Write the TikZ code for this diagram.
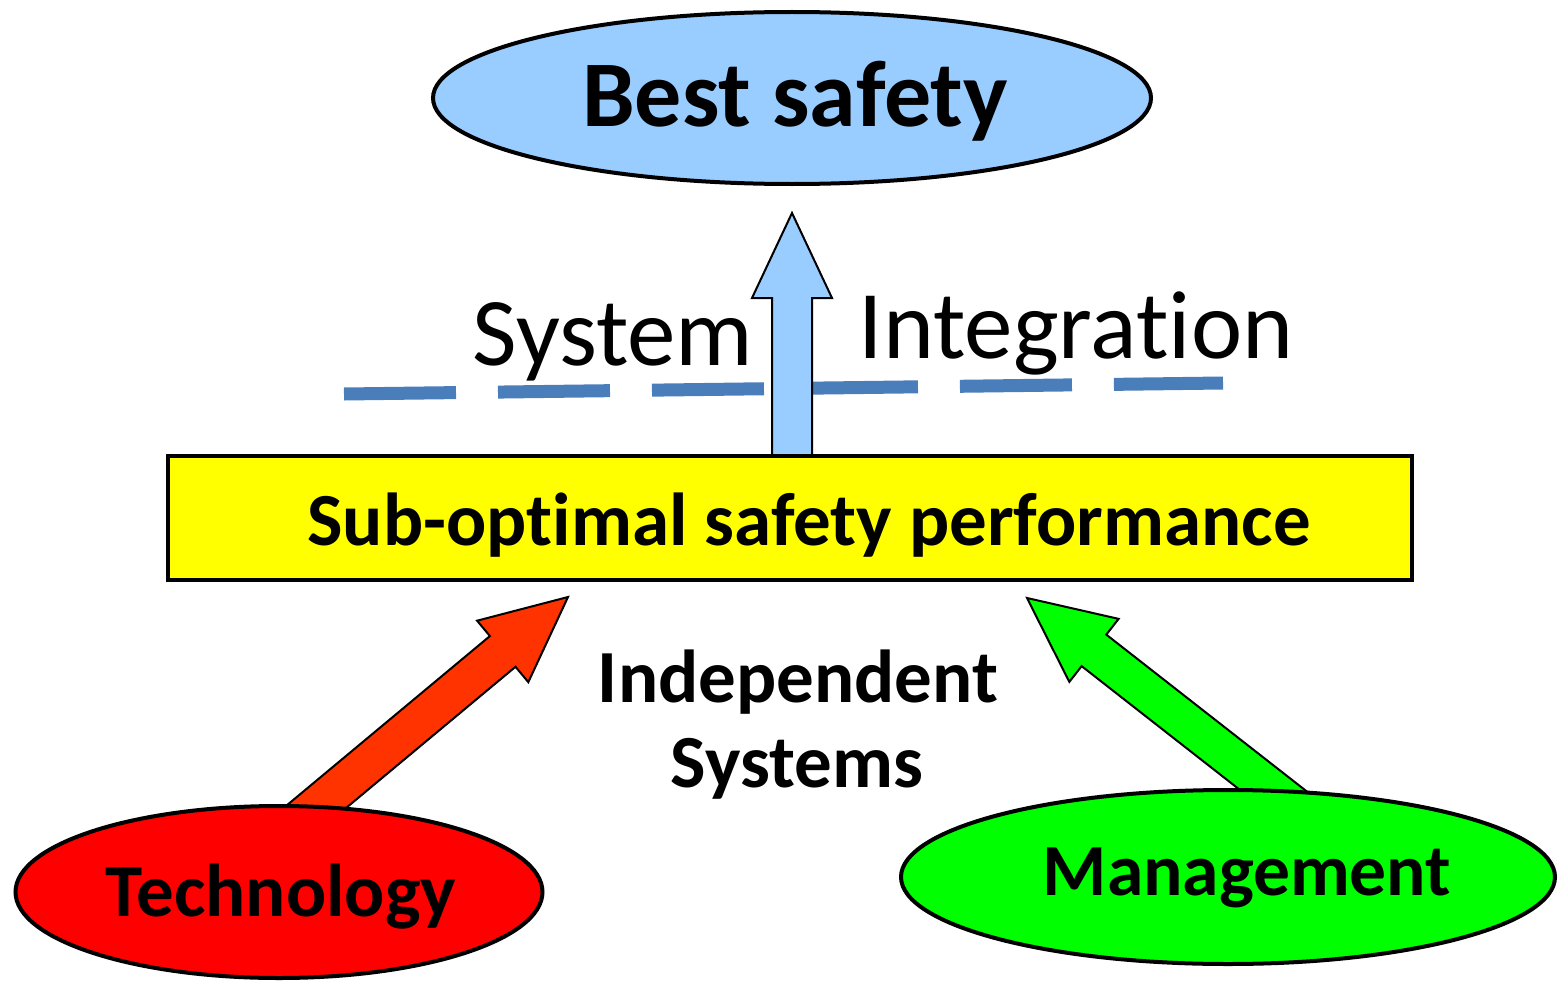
\documentclass[tikz,border=0pt]{standalone}
\usepackage{fontspec}
\setmainfont{Carlito}[RawFeature={-liga,-dlig}]
\usetikzlibrary{shapes.geometric,calc}

\definecolor{skyfill}{HTML}{99CCFF}
\definecolor{boxyellow}{HTML}{FFFF00}
\definecolor{techred}{HTML}{FF0000}
\definecolor{mgmtgreen}{HTML}{00FF00}
\definecolor{arroworange}{HTML}{FF3300}
\definecolor{dashblue}{HTML}{4A7EBB}

\tikzset{
  bubble/.style={ellipse, draw=black, line width=4pt, inner sep=0pt},
  blockarrow/.style={draw=black, line width=2pt, line join=miter},
  lbl/.style={anchor=base, inner sep=0pt, font=\bfseries\fontsize{#1}{#1}\selectfont},
  plainlbl/.style={anchor=base, inner sep=0pt, font=\fontsize{#1}{#1}\selectfont},
}

% Block arrow from #2 (tail) to #3 (tip), filled with #1:
% shaft 40pt wide, head 80pt wide and 85pt long.
\newcommand{\drawblockarrow}[3]{%
  \path[blockarrow, fill=#1]
    ($(#2)!20pt!90:(#3)$)
    -- ($(#3)!85pt!(#2)!20pt!90:(#3)$)
    -- ($(#3)!85pt!(#2)!40pt!90:(#3)$)
    -- (#3)
    -- ($(#3)!85pt!(#2)!40pt!-90:(#3)$)
    -- ($(#3)!85pt!(#2)!20pt!-90:(#3)$)
    -- ($(#2)!20pt!-90:(#3)$)
    -- cycle;}

\begin{document}
\begin{tikzpicture}[x=1pt,y=-1pt]
  \useasboundingbox (0,0) rectangle (1559,982);

  % dashed boundary line
  \coordinate (dashL) at (344,394);
  \coordinate (dashR) at (1223,383);
  \draw[dashblue, line width=13pt, dash pattern=on 112pt off 42pt] (dashL) -- (dashR);

  % arrow tips and tails
  \coordinate (upTail) at (792,470);
  \coordinate (upTip) at (792,213);
  \coordinate (techTail) at (298,822);
  \coordinate (techTip) at (568,597);
  \coordinate (mgmtTail) at (1307,817);
  \coordinate (mgmtTip) at (1027,598);

  % upward integration arrow
  \drawblockarrow{skyfill}{upTail}{upTip}

  % top goal
  \node[bubble, fill=skyfill, minimum width=718pt, minimum height=172pt] (best) at (792,98) {};
  \node[lbl=94] (bestText) at (795,126) {Best safety};

  % middle bar
  \node[draw=black, line width=4pt, fill=boxyellow, inner sep=0pt,
        minimum width=1244pt, minimum height=124pt] (sub) at (790,518) {};
  \node[lbl=75] (subText) at (809,545) {Sub-optimal safety performance};

  % independent inputs
  \drawblockarrow{arroworange}{techTail}{techTip}
  \drawblockarrow{mgmtgreen}{mgmtTail}{mgmtTip}

  \node[bubble, fill=techred, minimum width=527pt, minimum height=172pt] (tech) at (279,892) {};
  \node[lbl=75] (techText) at (281,916) {Technology};

  \node[bubble, fill=mgmtgreen, minimum width=654pt, minimum height=174pt] (mgmt) at (1228,877) {};
  \node[lbl=73.5] (mgmtText) at (1247,895) {Management};

  % captions
  \node[plainlbl=97] (sysText) at (613,365) {System};
  \node[plainlbl=97] (intText) at (1076,358) {Integration};
  \node[lbl=75] (indepText) at (798,702) {Independent};
  \node[lbl=75] (systemsText) at (797,787) {Systems};
\end{tikzpicture}
\end{document}
